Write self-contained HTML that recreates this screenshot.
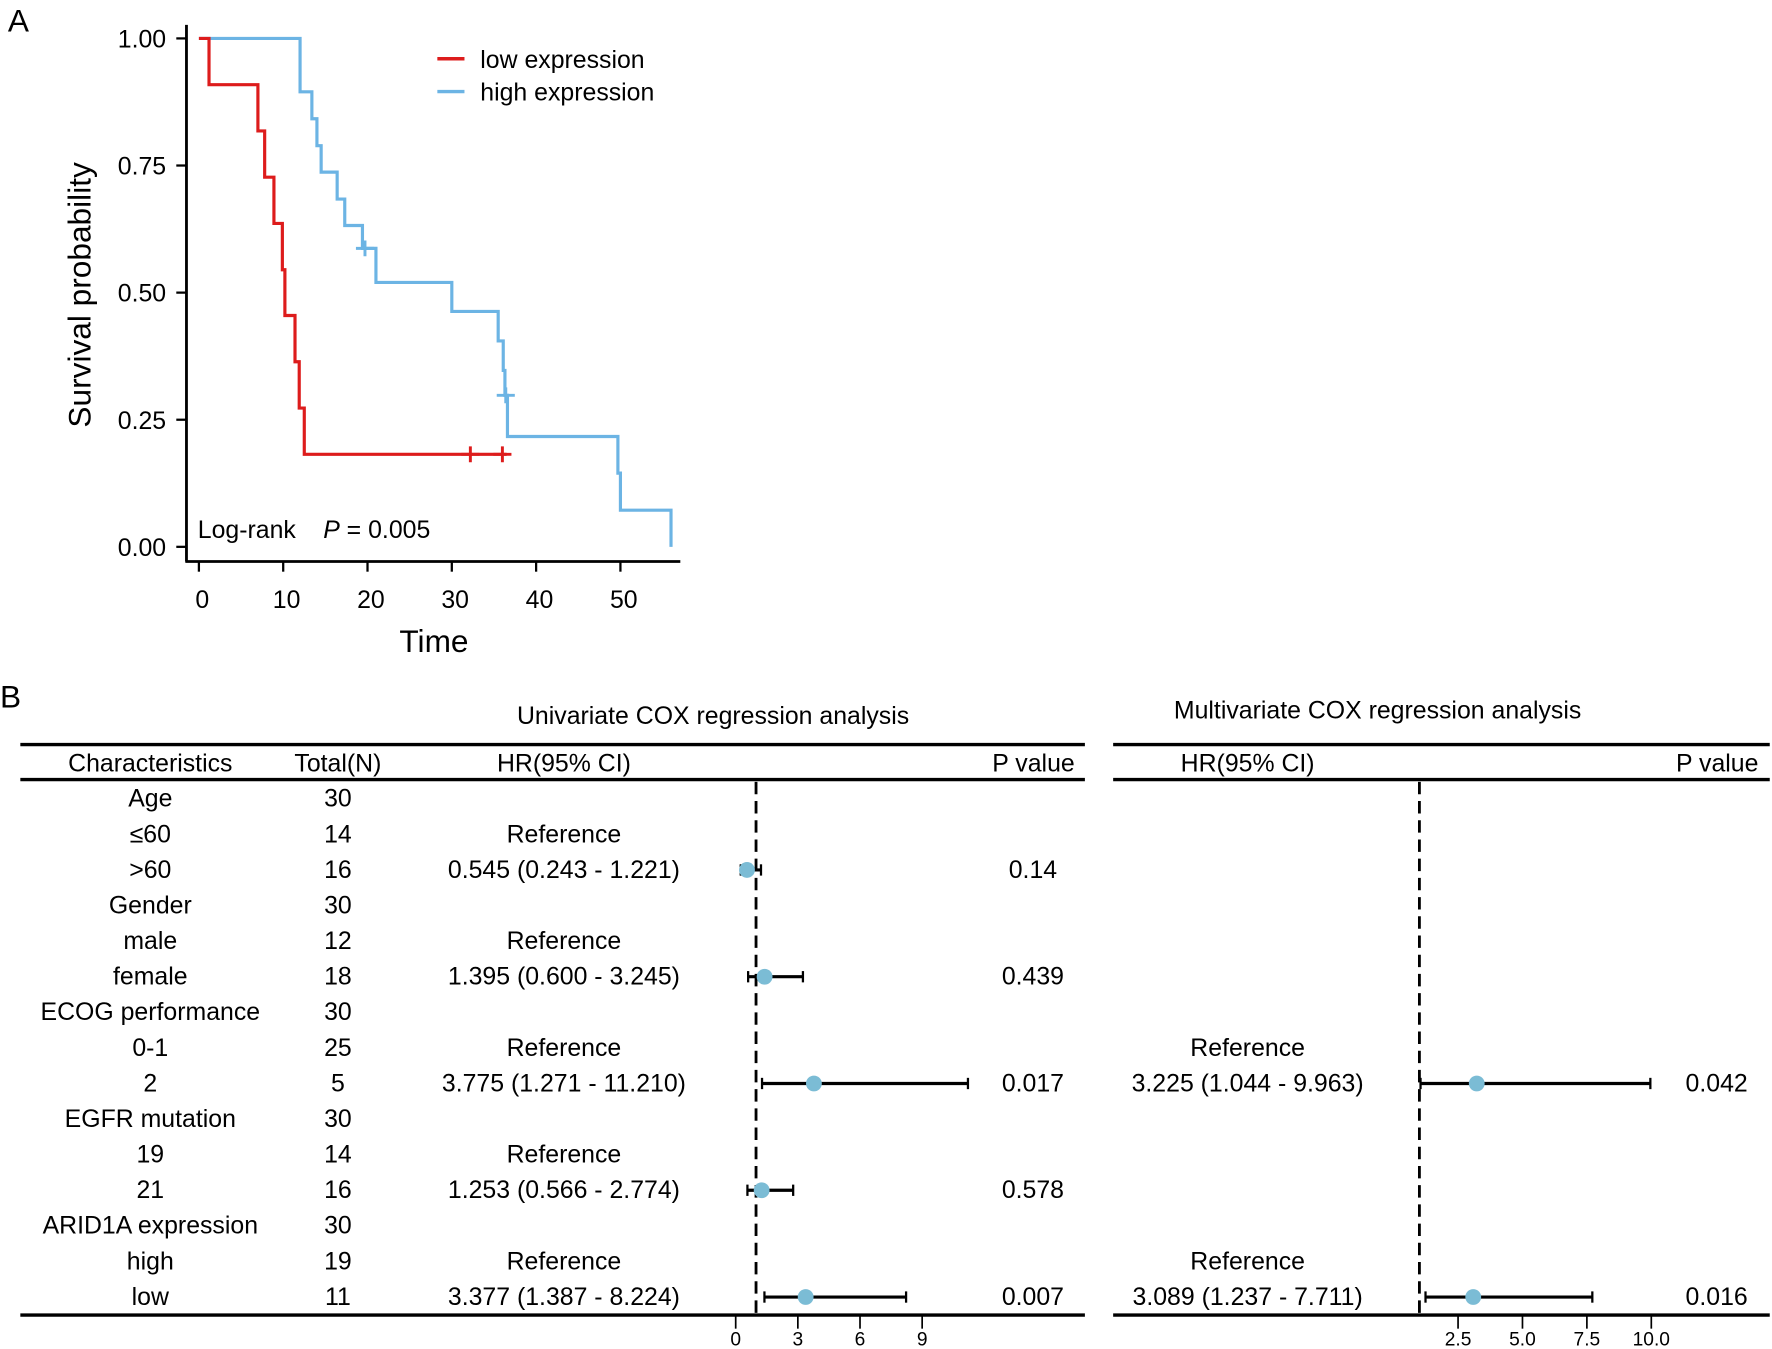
<!DOCTYPE html>
<html><head><meta charset="utf-8"><style>
html,body{margin:0;padding:0;background:#fff;}
svg{display:block;font-family:"Liberation Sans",Arial,sans-serif;}
</style></head><body>
<svg id="fig" width="1772" height="1349" viewBox="0 0 1568 1194" preserveAspectRatio="none" xmlns="http://www.w3.org/2000/svg">
<rect width="1568" height="1194" fill="#fff"/>
<text x="7" y="28" font-size="28">A</text>
<g id="km"></g>
<text x="0" y="626" font-size="28">B</text>
<g id="forest"></g>
</svg>
<script>
// ---- KM data ----
const lowTimes = [0, 1.2, 7.0, 7.8, 8.9, 9.9, 10.2, 11.4, 11.9, 12.5, 36.5];
const lowSurv  = [1.0, 0.909, 0.818, 0.727, 0.636, 0.545, 0.455, 0.364, 0.273, 0.182, 0.182];
const lowCensorT = [32.2, 36.0];
const lowCensorS = [0.182, 0.182];
const highTimes = [0, 12.0, 13.4, 14.0, 14.5, 16.4, 17.3, 19.4, 21.0, 30.0, 35.5, 36.1, 36.3, 36.6, 49.7, 50.0, 56.0];
const highSurv  = [1.0, 0.895, 0.842, 0.789, 0.737, 0.684, 0.632, 0.587, 0.52, 0.463, 0.405, 0.347, 0.298, 0.217, 0.145, 0.072, 0.0];
const highCensorT = [19.7, 36.4];
const highCensorS = [0.587, 0.298];
const xTicks = [0, 10, 20, 30, 40, 50];
const yTicks = [0, 0.25, 0.5, 0.75, 1.0];
const yTickLabels = ["0.00", "0.25", "0.50", "0.75", "1.00"];

// ---- Forest data ----
const rowLabels = ["Age","≤60",">60","Gender","male","female","ECOG performance","0-1","2","EGFR mutation","19","21","ARID1A expression","high","low"];
const rowTotals = ["30","14","16","30","12","18","30","25","5","30","14","16","30","19","11"];
const uniText = ["","Reference","0.545 (0.243 - 1.221)","","Reference","1.395 (0.600 - 3.245)","","Reference","3.775 (1.271 - 11.210)","","Reference","1.253 (0.566 - 2.774)","","Reference","3.377 (1.387 - 8.224)"];
const uniP = ["","","0.14","","","0.439","","","0.017","","","0.578","","","0.007"];
const uniHR = [null,null,0.545,null,null,1.395,null,null,3.775,null,null,1.253,null,null,3.377];
const uniLo = [null,null,0.243,null,null,0.600,null,null,1.271,null,null,0.566,null,null,1.387];
const uniHi = [null,null,1.221,null,null,3.245,null,null,11.210,null,null,2.774,null,null,8.224];
const multiText = ["","","","","","","","Reference","3.225 (1.044 - 9.963)","","","","","Reference","3.089 (1.237 - 7.711)"];
const multiP = ["","","","","","","","","0.042","","","","","","0.016"];
const multiHR = [null,null,null,null,null,null,null,null,3.225,null,null,null,null,null,3.089];
const multiLo = [null,null,null,null,null,null,null,null,1.044,null,null,null,null,null,1.237];
const multiHi = [null,null,null,null,null,null,null,null,9.963,null,null,null,null,null,7.711];
const uniTicks = [0,3,6,9];
const multiTicks = [2.5,5.0,7.5,10.0];
const multiTickLabels = ["2.5","5.0","7.5","10.0"];

const NS="http://www.w3.org/2000/svg";
function mk(parent, tag, attrs, txt){const e=document.createElementNS(NS,tag);for(const k in attrs)e.setAttribute(k,attrs[k]);if(txt!==undefined)e.textContent=txt;parent.appendChild(e);return e;}

// ---- KM ----
const km=document.getElementById('km');
const kx=t=>176+t*(549-176)/50;
const ky=s=>484-s*450;
let e;
e=mk(km,'line',{x1:165,y1:22,x2:165,y2:497,stroke:'#000','stroke-width':2.5});


e=mk(km,'line',{x1:164,y1:497,x2:602,y2:497,stroke:'#000','stroke-width':2.5});


yTicks.forEach((v,i)=>{
  const y=ky(v);
  let t=mk(km,'line',{x1:156,y1:y,x2:165,y2:y,stroke:'#000','stroke-width':2});
  
  
  let l=mk(km,'text',{x:147,y:y+8,'font-size':22,'text-anchor':'end'},yTickLabels[i]);
  
  
});
xTicks.forEach(v=>{
  const x=kx(v);
  let t=mk(km,'line',{x1:x,y1:497,x2:x,y2:506,stroke:'#000','stroke-width':2});
  
  
  let l=mk(km,'text',{x:x+3,y:538,'font-size':22,'text-anchor':'middle'},String(v));
  
  
});
e=mk(km,'text',{x:384,y:577,'font-size':28,'text-anchor':'middle'},'Time');


e=mk(km,'text',{x:0,y:0,'font-size':28,'text-anchor':'middle',transform:'translate(80,261) rotate(-90)'},'Survival probability');


function stepPath(ts,ss){let d=`M${kx(ts[0])},${ky(ss[0])}`;for(let i=1;i<ts.length;i++){d+=` H${kx(ts[i])} V${ky(ss[i])}`;}return d;}
e=mk(km,'path',{d:stepPath(highTimes,highSurv),fill:'none',stroke:'#6cb4e4','stroke-width':2.8});


e=mk(km,'path',{d:stepPath(lowTimes,lowSurv),fill:'none',stroke:'#dd1c1c','stroke-width':2.8});


function censors(ts,ss,col,name){ts.forEach((t,i)=>{const x=kx(t),y=ky(ss[i]);const c=mk(km,'path',{d:`M${x-8},${y} H${x+8} M${x},${y-7} V${y+7}`,stroke:col,'stroke-width':2.6});
  
  });}
censors(highCensorT,highCensorS,'#6cb4e4','high-censor-mark');
censors(lowCensorT,lowCensorS,'#dd1c1c','low-censor-mark');
e=mk(km,'line',{x1:387,y1:52,x2:411,y2:52,stroke:'#dd1c1c','stroke-width':3});


e=mk(km,'text',{x:425,y:60,'font-size':22},'low expression');


e=mk(km,'line',{x1:387,y1:81,x2:411,y2:81,stroke:'#6cb4e4','stroke-width':3});


e=mk(km,'text',{x:425,y:89,'font-size':22},'high expression');


e=mk(km,'text',{x:175,y:476,'font-size':22},'Log-rank');


e=mk(km,'text',{x:286,y:476,'font-size':22},'');


mk(e,'tspan',{'font-style':'italic'},'P');
mk(e,'tspan',{},' = 0.005');

// ---- Forest ----
const fg=document.getElementById('forest');
const rowY=i=>707+i*31.5;
const ux=v=>651+v*(816-651)/9;
const mx=v=>1256+(v-1)*(1461-1290)/7.5;
function txt(x,y,s,anchor,name,size){const t=mk(fg,'text',{x:x,y:y+7,'font-size':size||22,'text-anchor':anchor||'middle'},s);
  
  return t;}
txt(631,634,'Univariate COX regression analysis','middle','univariate-title');
txt(1219,629,'Multivariate COX regression analysis','middle','multivariate-title');
[[18,960],[985,1566]].forEach(([a,b])=>{
  [659,690,1164].forEach(y=>{const l=mk(fg,'line',{x1:a,y1:y,x2:b,y2:y,stroke:'#000','stroke-width':3});
    
    });
});
txt(133,676,'Characteristics','middle','header-characteristics');
txt(299,676,'Total(N)','middle','header-total');
txt(499,676,'HR(95% CI)','middle','header-uni-hr');
txt(951,676,'P value','end','header-uni-p');
txt(1104,676,'HR(95% CI)','middle','header-multi-hr');
txt(1556,676,'P value','end','header-multi-p');
e=mk(fg,'line',{x1:669,y1:692,x2:669,y2:1164,stroke:'#000','stroke-width':2.5,'stroke-dasharray':'11,6'});


e=mk(fg,'line',{x1:1256,y1:692,x2:1256,y2:1164,stroke:'#000','stroke-width':2.5,'stroke-dasharray':'11,6'});


function ci(xf,lo,hi,hr,y,name){
  const g=mk(fg,'g',{});
  
  
  mk(g,'line',{x1:xf(lo),y1:y,x2:xf(hi),y2:y,stroke:'#000','stroke-width':2.8});
  mk(g,'line',{x1:xf(lo),y1:y-5,x2:xf(lo),y2:y+5,stroke:'#000','stroke-width':2});
  mk(g,'line',{x1:xf(hi),y1:y-5,x2:xf(hi),y2:y+5,stroke:'#000','stroke-width':2});
  mk(g,'circle',{cx:xf(hr),cy:y,r:7,fill:'#7bbcd5'});
}
rowLabels.forEach((lab,i)=>{
  const y=rowY(i);
  txt(133,y,lab,'middle','row-label');
  txt(299,y,rowTotals[i],'middle','row-total');
  if(uniText[i])txt(499,y,uniText[i],'middle','uni-hr-text');
  if(uniP[i])txt(914,y,uniP[i],'middle','uni-p-value');
  if(multiText[i])txt(1104,y,multiText[i],'middle','multi-hr-text');
  if(multiP[i])txt(1519,y,multiP[i],'middle','multi-p-value');
  if(uniHR[i]!==null)ci(ux,uniLo[i],uniHi[i],uniHR[i],y,'uni-hr-point');
  if(multiHR[i]!==null)ci(mx,multiLo[i],multiHi[i],multiHR[i],y,'multi-hr-point');
});
uniTicks.forEach(v=>{
  const l=mk(fg,'line',{x1:ux(v),y1:1164,x2:ux(v),y2:1176,stroke:'#000','stroke-width':1.5});
  
  
  txt(ux(v),1184,String(v),'middle','uni-axis-label',17);
});
multiTicks.forEach((v,i)=>{
  const l=mk(fg,'line',{x1:mx(v),y1:1164,x2:mx(v),y2:1176,stroke:'#000','stroke-width':1.5});
  
  
  txt(mx(v),1184,multiTickLabels[i],'middle','multi-axis-label',17);
});
</script>
</body></html>
